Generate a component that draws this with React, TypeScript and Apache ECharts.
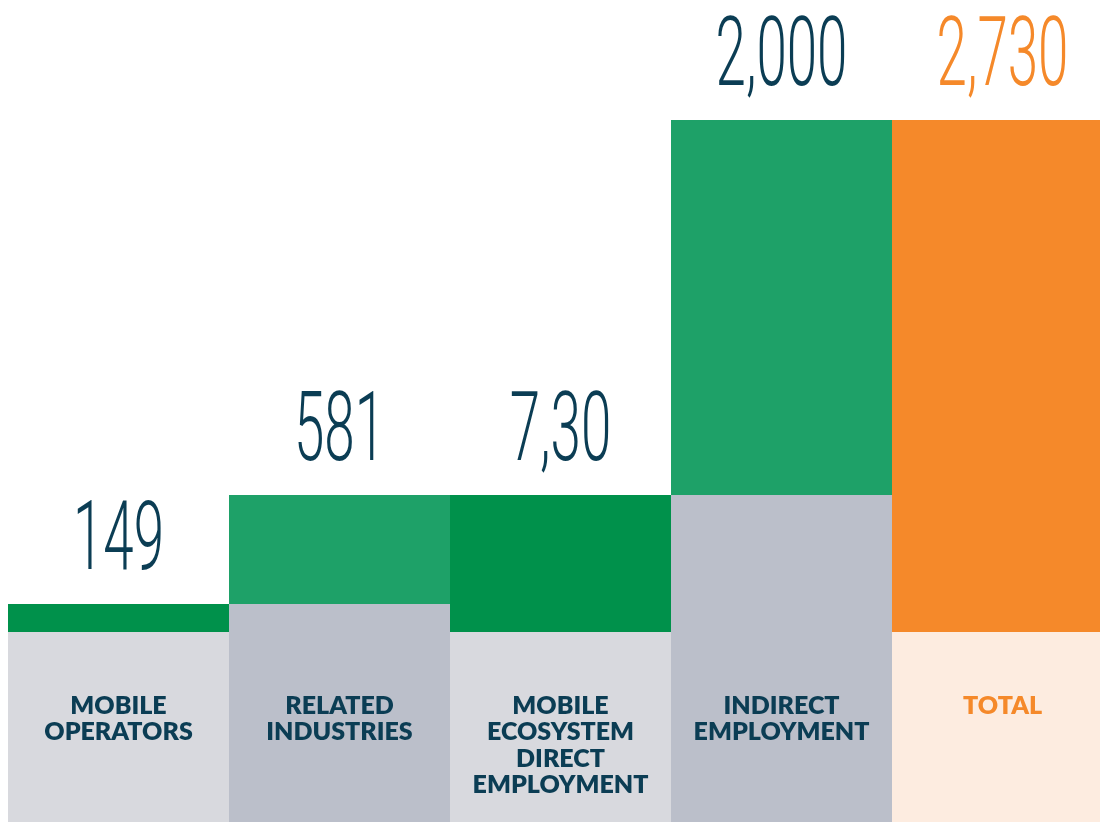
import React, { useEffect, useRef } from "react";
import * as echarts from "echarts";

const CATEGORIES = [
  "MOBILE\nOPERATORS",
  "RELATED\nINDUSTRIES",
  "MOBILE\nECOSYSTEM\nDIRECT\nEMPLOYMENT",
  "INDIRECT\nEMPLOYMENT",
  "TOTAL",
];
const BASE = [0, 149, 0, 730, 0];
const VALUES = [149, 581, 730, 2000, 2730];
const VALUE_LABELS = ["149", "581", "7,30", "2,000", "2,730"];

const NAVY = "#0b3d54";
const ORANGE = "#f5892a";
const PANEL_COLORS = ["#d8d9de", "#bbbfca", "#d8d9de", "#bbbfca", "#fdece0"];
const BASE_COLORS = ["#bbbfca", "#bbbfca", "#bbbfca", "#bbbfca", "#bbbfca"];
const BAR_COLORS = ["#00914b", "#1ea168", "#00914b", "#1ea168", ORANGE];
const LABEL_COLORS = [NAVY, NAVY, NAVY, NAVY, ORANGE];

const Y_MIN = -1013;
const Y_MAX = 3370;

export default function App() {
  const ref = useRef<HTMLDivElement>(null);
  useEffect(() => {
    if (!ref.current) return;
    const chart = echarts.init(ref.current, null, { renderer: "svg" });
    const panelData = CATEGORIES.map((name, i) => ({
      name,
      value: Y_MIN,
      itemStyle: { color: PANEL_COLORS[i] },
      label: { color: LABEL_COLORS[i] },
    }));
    const baseData = BASE.map((v, i) => ({
      value: v,
      itemStyle: { color: BASE_COLORS[i] },
    }));
    const barData = VALUES.map((v, i) => ({
      value: v,
      itemStyle: { color: BAR_COLORS[i] },
    }));
    const labelData = VALUES.map((v, i) => [i, BASE[i] + v]);

    chart.setOption({
      animation: false,
      grid: {
        left: 8,
        top: 0,
        bottom: 0,
        width: 1105,
        containLabel: false,
        outerBoundsMode: "none",
      },
      xAxis: {
        type: "category",
        data: CATEGORIES,
        axisLine: { show: false },
        axisTick: { show: false },
        splitLine: { show: false },
        axisLabel: { show: false },
      },
      yAxis: {
        type: "value",
        min: Y_MIN,
        max: Y_MAX,
        axisLine: { show: false },
        axisTick: { show: false },
        axisLabel: { show: false },
        splitLine: { show: false },
      },
      series: [
        {
          type: "bar",
          stack: "w",
          data: panelData,
          barCategoryGap: "0%",
          barWidth: "100%",
          silent: true,
          label: {
            show: true,
            position: "insideTop",
            distance: 59,
            formatter: "{b}",
            fontFamily: "Lato",
            fontWeight: 800,
            fontSize: 25,
            lineHeight: 26.3,
            align: "center",
          },
        },
        {
          type: "bar",
          stack: "w",
          data: baseData,
          barCategoryGap: "0%",
          barWidth: "100%",
          silent: true,
        },
        {
          type: "bar",
          stack: "w",
          data: barData,
          barCategoryGap: "0%",
          barWidth: "100%",
          silent: true,
        },
        {
          type: "custom",
          coordinateSystem: "cartesian2d",
          data: labelData,
          encode: { x: 0, y: 1 },
          clip: false,
          z: 10,
          renderItem: (params: any, api: any) => {
            const i = params.dataIndex;
            const p = api.coord([api.value(0), api.value(1)]);
            return {
              type: "text",
              x: p[0],
              y: p[1] - 68,
              scaleX: 0.57,
              style: {
                text: VALUE_LABELS[i],
                fontFamily: "Roboto",
                fontWeight: 300,
                fontSize: 96,
                fill: LABEL_COLORS[i],
                align: "center",
                verticalAlign: "middle",
              },
            };
          },
        },
      ],
    });
    return () => chart.dispose();
  }, []);
  return (
    <div
      ref={ref}
      style={{ position: "fixed", left: 0, top: 0, width: 1100, height: 822 }}
    />
  );
}
